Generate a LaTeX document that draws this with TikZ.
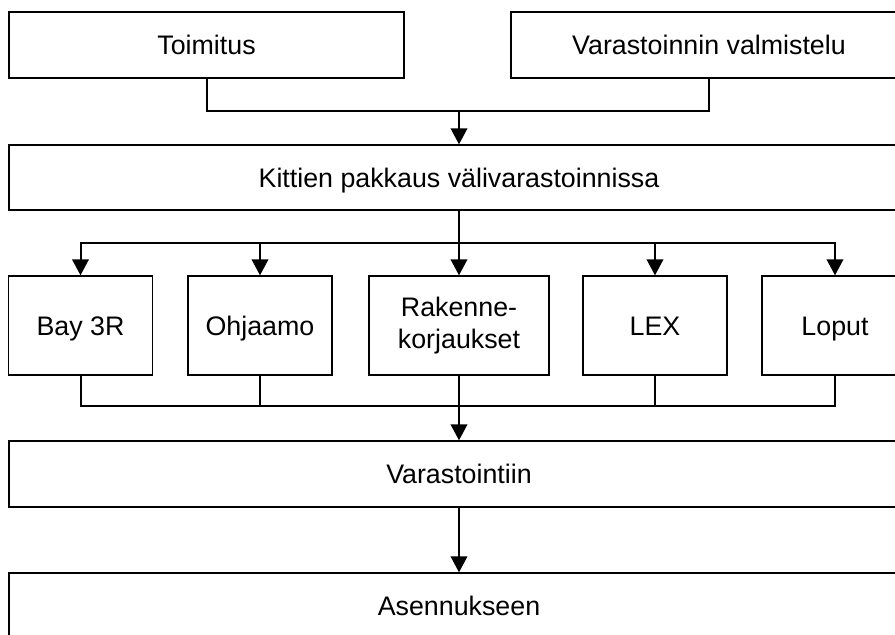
\documentclass[tikz,border=0pt]{standalone}
\usepackage{fontspec}
\setmainfont{Liberation Sans}
\usetikzlibrary{arrows.meta}
\begin{document}
\begin{tikzpicture}[x=1pt,y=-1pt,
  box/.style={draw=black, line width=1.3pt, rectangle, inner sep=0pt,
    font=\fontsize{26.8}{32}\selectfont, align=center},
  one/.style={box, text height=19.2pt, text depth=0pt},
  conn/.style={line width=2pt},
  arr/.style={conn, -{Triangle[width=16.5pt,length=16pt]}}]
\useasboundingbox (0,0) rectangle (895,635);
\clip (0,0) rectangle (895,635);
\node[one, minimum width=395, minimum height=66] (toim) at (206.5,45) {Toimitus};
\node[one, minimum width=396, minimum height=66] (valm) at (709,45) {Varastoinnin valmistelu};
\node[one, minimum width=900, minimum height=65] (kit) at (459,177.5) {Kittien pakkaus välivarastoinnissa};
\node[one, minimum width=144, minimum height=99] (bay) at (80.5,325.5) {Bay 3R};
\node[one, minimum width=144, minimum height=99] (ohj) at (260,325.5) {Ohjaamo};
\node[box, minimum width=180, minimum height=99] (rak) at (459,325.5) {Rakenne-\\korjaukset};
\node[one, minimum width=144, minimum height=99] (lex) at (655,325.5) {LEX};
\node[one, minimum width=146, minimum height=99] (lop) at (835,325.5) {Loput};
\node[one, minimum width=900, minimum height=66] (vst) at (459,474) {Varastointiin};
\node[one, minimum width=900, minimum height=66] (ase) at (459,606) {Asennukseen};
\coordinate (j1) at (459,111);
\coordinate (d) at (459,243);
\coordinate (c) at (459,406);
\draw[conn] (toim.south) |- (j1) -| (valm.south);
\draw[arr] (j1) -- (kit.north);
\draw[conn] (kit.south) -- (d);
\draw[arr] (d) -| (bay.north);
\draw[arr] (d) -| (ohj.north);
\draw[arr] (d) -- (rak.north);
\draw[arr] (d) -| (lex.north);
\draw[arr] (d) -| (lop.north);
\draw[conn] (bay.south) |- (c);
\draw[conn] (ohj.south) |- (c);
\draw[conn] (rak.south) -- (c);
\draw[conn] (lex.south) |- (c);
\draw[conn] (lop.south) |- (c);
\draw[arr] (c) -- (vst.north);
\draw[arr] (vst.south) -- (ase.north);
\end{tikzpicture}
\end{document}
